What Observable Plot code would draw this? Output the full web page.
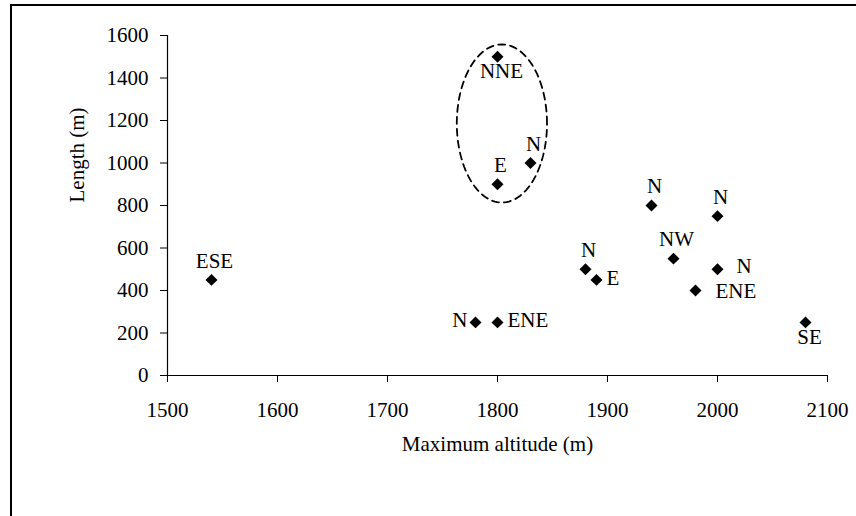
<!DOCTYPE html>
<html>
<head>
<meta charset="utf-8">
<script src="https://cdn.jsdelivr.net/npm/d3@7"></script>
<script src="https://cdn.jsdelivr.net/npm/@observablehq/plot@0.6"></script>
<style>
  html, body { margin: 0; padding: 0; background: #fff; }
  #wrap { position: relative; width: 856px; height: 516px; overflow: hidden; }
  #frame { position: absolute; left: 10px; top: 4px; width: 900px; height: 600px;
           border-top: 2px solid #000; border-left: 2px solid #000; pointer-events: none; }
  svg { display: block; }
  svg text, svg tspan { font-family: "Liberation Serif", LiberationSerif, Tinos, "DejaVu Serif", serif !important; }
</style>
</head>
<body>
<div id="wrap"><div id="frame"></div></div>
<script>
// Data
const altitude = [1540, 1780, 1800, 1800, 1800, 1830, 1880, 1890, 1940, 1960, 2000, 2000, 1980, 2080];
const lengthM  = [450, 250, 250, 1500, 900, 1000, 500, 450, 800, 550, 750, 500, 400, 250];
const aspect   = ["ESE", "N", "ENE", "NNE", "E", "N", "N", "E", "N", "NW", "N", "N", "ENE", "SE"];
const labelSide = ["above", "left", "right", "below", "above", "above", "above", "right", "above", "above", "above", "rightFar", "rightFar2", "below"];

const xTicks = [1500, 1600, 1700, 1800, 1900, 2000, 2100];
const yTicks = [0, 200, 400, 600, 800, 1000, 1200, 1400, 1600];

// Highlight ellipse (data units)
const ellipseCenter = [1804, 1186];
const ellipseRadii = [41, 372];

const points = altitude.map((a, i) => ({x: a, y: lengthM[i], label: aspect[i], side: labelSide[i]}));

const sideStyle = {
  above:     {dx: 3,   dy: -19, anchor: "middle"},
  below:     {dx: 4,   dy: 15,  anchor: "middle"},
  left:      {dx: -8,  dy: -2,  anchor: "end"},
  right:     {dx: 10,  dy: -2,  anchor: "start"},
  rightFar:  {dx: 19,  dy: -3,  anchor: "start"},
  rightFar2: {dx: 20,  dy: 1,   anchor: "start"}
};

const ellipse = d3.range(0, 121).map(k => {
  const t = (k / 120) * 2 * Math.PI;
  return {x: ellipseCenter[0] + ellipseRadii[0] * Math.cos(t), y: ellipseCenter[1] + ellipseRadii[1] * Math.sin(t)};
});

const FONT = "Liberation Serif";

const textMarks = Object.entries(sideStyle).map(([side, s]) =>
  Plot.text(points.filter(p => p.side === side), {
    x: "x", y: "y", text: "label", dx: s.dx, dy: s.dy, textAnchor: s.anchor,
    fill: "#000", fontSize: 21, fontFamily: FONT
  })
);

const chart = Plot.plot({
  width: 856,
  height: 516,
  marginLeft: 167,
  marginRight: 29,
  marginTop: 35,
  marginBottom: 141,
  style: {fontFamily: FONT, fontSize: "21px", color: "#000", background: "transparent"},
  x: {domain: [1500, 2100]},
  y: {domain: [0, 1600]},
  marks: [
    Plot.axisX({ticks: xTicks, tickSize: 7, tickPadding: 20, label: null, stroke: "#000", fill: "#000", fontSize: 21, fontFamily: FONT, fontVariant: "normal", tickFormat: d => String(d)}),
    Plot.axisY({ticks: yTicks, tickSize: 7, tickPadding: 12, label: null, stroke: "#000", fill: "#000", fontSize: 21, fontFamily: FONT, fontVariant: "normal", tickFormat: d => String(d)}),
    Plot.ruleY([0], {stroke: "#000", strokeWidth: 1.2}),
    Plot.ruleX([1500], {stroke: "#000", strokeWidth: 1.2}),
    Plot.line(ellipse, {x: "x", y: "y", stroke: "#000", strokeWidth: 1.8, strokeDasharray: "7,5", curve: "linear-closed"}),
    Plot.dot(points, {x: "x", y: "y", symbol: "diamond2", r: 5.4, fill: "#000", stroke: null}),
    ...textMarks,
    Plot.text(["Maximum altitude (m)"], {frameAnchor: "bottom", dy: 75, text: d => d, fontSize: 21, fontFamily: FONT, fill: "#000"}),
    Plot.text(["Length (m)"], {frameAnchor: "left", dx: -90, dy: -3, rotate: -90, text: d => d, fontSize: 21, fontFamily: FONT, fill: "#000"})
  ]
});

document.getElementById("wrap").prepend(chart);
</script>
</body>
</html>
